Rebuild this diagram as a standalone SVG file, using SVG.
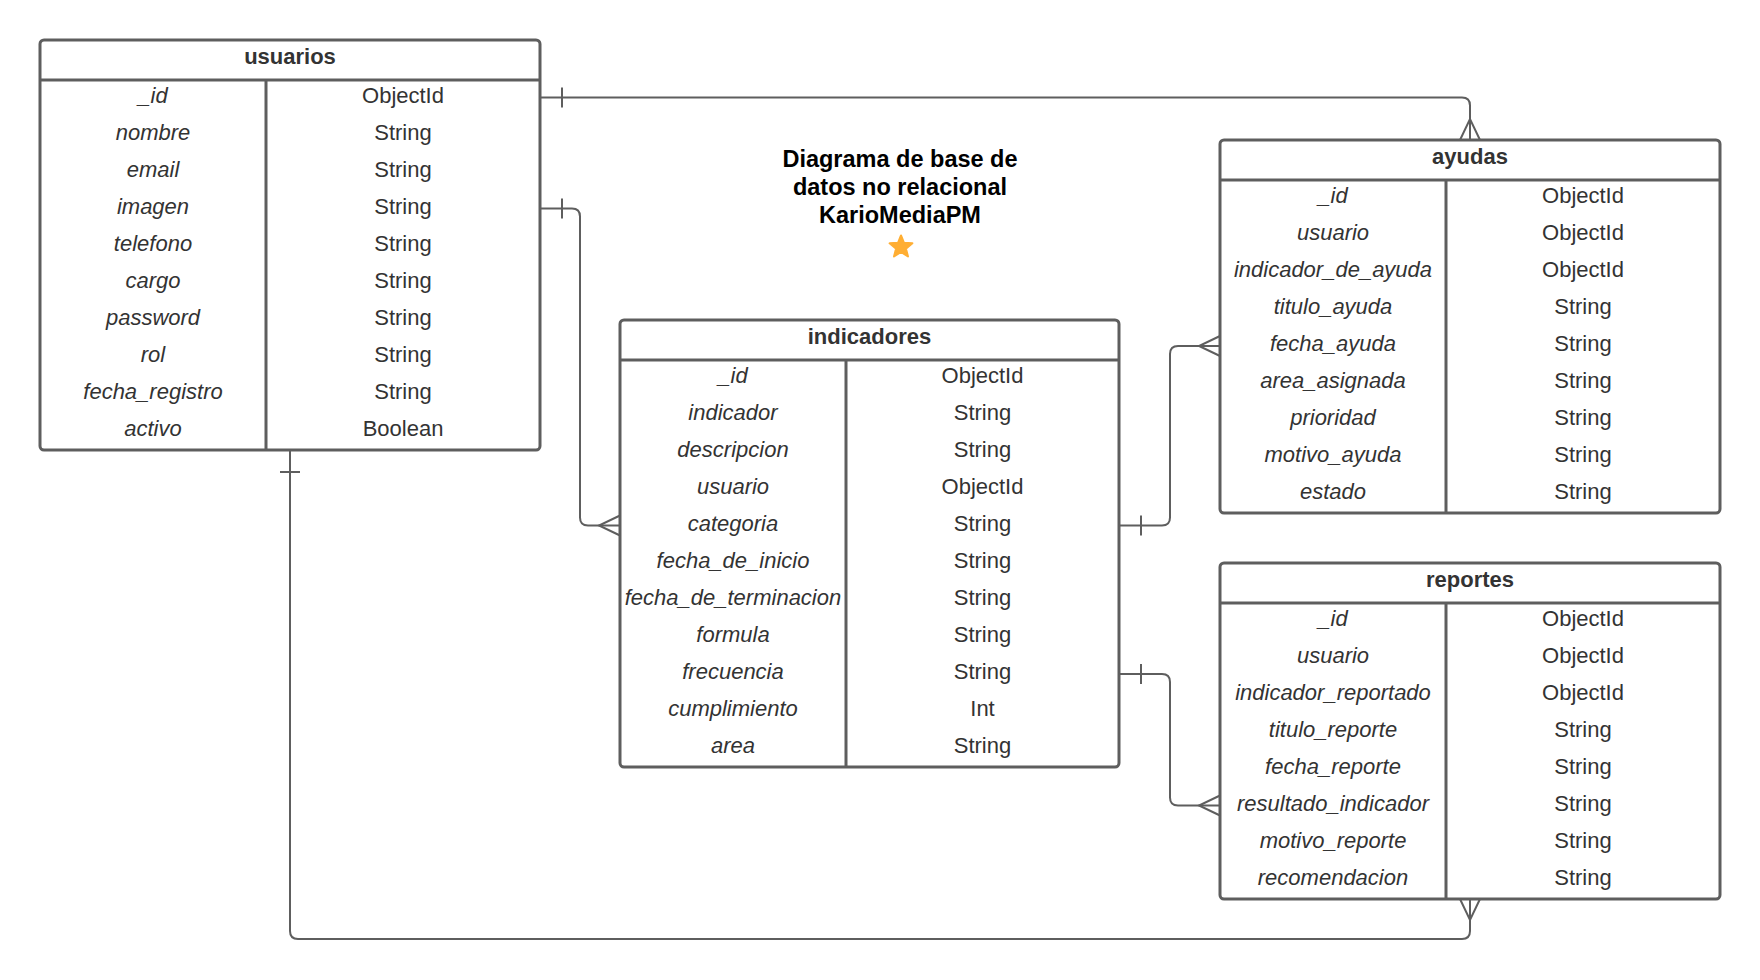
<svg xmlns="http://www.w3.org/2000/svg" width="1760" height="980" viewBox="0 0 1760 980">
<style>
.box{fill:#ffffff;stroke:#5e5e5e;stroke-width:3}
.ln{stroke:#5e5e5e;stroke-width:3;fill:none}
.cn{stroke:#5e5e5e;stroke-width:2;fill:none}
.hd{font-family:"Liberation Sans",Arial,sans-serif;font-size:22px;font-weight:bold;fill:#333333;text-anchor:middle}
.nm{font-family:"Liberation Sans",Arial,sans-serif;font-size:22px;font-style:italic;fill:#333333;text-anchor:middle}
.ty{font-family:"Liberation Sans",Arial,sans-serif;font-size:22px;fill:#333333;text-anchor:middle}
.ti{font-family:"Liberation Sans",Arial,sans-serif;font-size:23.5px;font-weight:bold;fill:#000000;text-anchor:middle}
</style>
<rect width="1760" height="980" fill="#ffffff"/>

<g id="connectors">
  <path class="cn" d="M540 97.5 H1462 Q1470 97.5 1470 105.5 V140"/>
  <path class="cn" d="M562 87.5 V107.5"/>
  <path class="cn" d="M1460 140 L1470 119 L1480 140"/>

  <path class="cn" d="M540 208.5 H572 Q580 208.5 580 216.5 V517.5 Q580 525.5 588 525.5 H620"/>
  <path class="cn" d="M562 198.5 V218.5"/>
  <path class="cn" d="M620 515.5 L599 525.5 L620 535.5"/>

  <path class="cn" d="M1119 525.5 H1162 Q1170 525.5 1170 517.5 V354 Q1170 346 1178 346 H1220"/>
  <path class="cn" d="M1141 515.5 V535.5"/>
  <path class="cn" d="M1220 336 L1199 346 L1220 356"/>

  <path class="cn" d="M1119 674 H1162 Q1170 674 1170 682 V797.5 Q1170 805.5 1178 805.5 H1220"/>
  <path class="cn" d="M1141 664 V684"/>
  <path class="cn" d="M1220 795.5 L1199 805.5 L1220 815.5"/>

  <path class="cn" d="M290 450 V931 Q290 939 298 939 H1462 Q1470 939 1470 931 V899"/>
  <path class="cn" d="M280 472 H300"/>
  <path class="cn" d="M1460 899 L1470 920 L1480 899"/>
</g>

<g id="title">
  <text class="ti" x="900" y="166.5">Diagrama de base de</text>
  <text class="ti" x="900" y="194.5">datos no relacional</text>
  <text class="ti" x="900" y="222.5">KarioMediaPM</text>
  <polygon fill="#FFAE33" stroke="#FFAE33" stroke-width="2" stroke-linejoin="round" points="901,235.5 904,242.8 912.4,243.3 905.9,248.6 908,256.5 901,252 894,256.5 896.1,248.6 889.6,243.3 898,242.8"/>
</g>

<g id="usuarios">
  <rect class="box" x="40" y="40" width="500" height="410" rx="4"/>
  <line class="ln" x1="40" y1="80" x2="540" y2="80"/>
  <line class="ln" x1="266" y1="80" x2="266" y2="450"/>
  <text class="hd" x="290" y="64">usuarios</text>
  <text class="nm" x="153" y="102.5">_id</text><text class="ty" x="403" y="102.5">ObjectId</text>
  <text class="nm" x="153" y="139.5">nombre</text><text class="ty" x="403" y="139.5">String</text>
  <text class="nm" x="153" y="176.5">email</text><text class="ty" x="403" y="176.5">String</text>
  <text class="nm" x="153" y="213.5">imagen</text><text class="ty" x="403" y="213.5">String</text>
  <text class="nm" x="153" y="250.5">telefono</text><text class="ty" x="403" y="250.5">String</text>
  <text class="nm" x="153" y="287.5">cargo</text><text class="ty" x="403" y="287.5">String</text>
  <text class="nm" x="153" y="324.5">password</text><text class="ty" x="403" y="324.5">String</text>
  <text class="nm" x="153" y="361.5">rol</text><text class="ty" x="403" y="361.5">String</text>
  <text class="nm" x="153" y="398.5">fecha_registro</text><text class="ty" x="403" y="398.5">String</text>
  <text class="nm" x="153" y="435.5">activo</text><text class="ty" x="403" y="435.5">Boolean</text>
</g>

<g id="indicadores">
  <rect class="box" x="620" y="320" width="499" height="447" rx="4"/>
  <line class="ln" x1="620" y1="360" x2="1119" y2="360"/>
  <line class="ln" x1="846" y1="360" x2="846" y2="767"/>
  <text class="hd" x="869.5" y="344">indicadores</text>
  <text class="nm" x="733" y="382.5">_id</text><text class="ty" x="982.5" y="382.5">ObjectId</text>
  <text class="nm" x="733" y="419.5">indicador</text><text class="ty" x="982.5" y="419.5">String</text>
  <text class="nm" x="733" y="456.5">descripcion</text><text class="ty" x="982.5" y="456.5">String</text>
  <text class="nm" x="733" y="493.5">usuario</text><text class="ty" x="982.5" y="493.5">ObjectId</text>
  <text class="nm" x="733" y="530.5">categoria</text><text class="ty" x="982.5" y="530.5">String</text>
  <text class="nm" x="733" y="567.5">fecha_de_inicio</text><text class="ty" x="982.5" y="567.5">String</text>
  <text class="nm" x="733" y="604.5">fecha_de_terminacion</text><text class="ty" x="982.5" y="604.5">String</text>
  <text class="nm" x="733" y="641.5">formula</text><text class="ty" x="982.5" y="641.5">String</text>
  <text class="nm" x="733" y="678.5">frecuencia</text><text class="ty" x="982.5" y="678.5">String</text>
  <text class="nm" x="733" y="715.5">cumplimiento</text><text class="ty" x="982.5" y="715.5">Int</text>
  <text class="nm" x="733" y="752.5">area</text><text class="ty" x="982.5" y="752.5">String</text>
</g>

<g id="ayudas">
  <rect class="box" x="1220" y="140" width="500" height="373" rx="4"/>
  <line class="ln" x1="1220" y1="180" x2="1720" y2="180"/>
  <line class="ln" x1="1446" y1="180" x2="1446" y2="513"/>
  <text class="hd" x="1470" y="164">ayudas</text>
  <text class="nm" x="1333" y="203">_id</text><text class="ty" x="1583" y="203">ObjectId</text>
  <text class="nm" x="1333" y="240">usuario</text><text class="ty" x="1583" y="240">ObjectId</text>
  <text class="nm" x="1333" y="277">indicador_de_ayuda</text><text class="ty" x="1583" y="277">ObjectId</text>
  <text class="nm" x="1333" y="314">titulo_ayuda</text><text class="ty" x="1583" y="314">String</text>
  <text class="nm" x="1333" y="351">fecha_ayuda</text><text class="ty" x="1583" y="351">String</text>
  <text class="nm" x="1333" y="388">area_asignada</text><text class="ty" x="1583" y="388">String</text>
  <text class="nm" x="1333" y="425">prioridad</text><text class="ty" x="1583" y="425">String</text>
  <text class="nm" x="1333" y="462">motivo_ayuda</text><text class="ty" x="1583" y="462">String</text>
  <text class="nm" x="1333" y="499">estado</text><text class="ty" x="1583" y="499">String</text>
</g>

<g id="reportes">
  <rect class="box" x="1220" y="563" width="500" height="336" rx="4"/>
  <line class="ln" x1="1220" y1="603" x2="1720" y2="603"/>
  <line class="ln" x1="1446" y1="603" x2="1446" y2="899"/>
  <text class="hd" x="1470" y="587">reportes</text>
  <text class="nm" x="1333" y="625.5">_id</text><text class="ty" x="1583" y="625.5">ObjectId</text>
  <text class="nm" x="1333" y="662.5">usuario</text><text class="ty" x="1583" y="662.5">ObjectId</text>
  <text class="nm" x="1333" y="699.5">indicador_reportado</text><text class="ty" x="1583" y="699.5">ObjectId</text>
  <text class="nm" x="1333" y="736.5">titulo_reporte</text><text class="ty" x="1583" y="736.5">String</text>
  <text class="nm" x="1333" y="773.5">fecha_reporte</text><text class="ty" x="1583" y="773.5">String</text>
  <text class="nm" x="1333" y="810.5">resultado_indicador</text><text class="ty" x="1583" y="810.5">String</text>
  <text class="nm" x="1333" y="847.5">motivo_reporte</text><text class="ty" x="1583" y="847.5">String</text>
  <text class="nm" x="1333" y="884.5">recomendacion</text><text class="ty" x="1583" y="884.5">String</text>
</g>
</svg>
